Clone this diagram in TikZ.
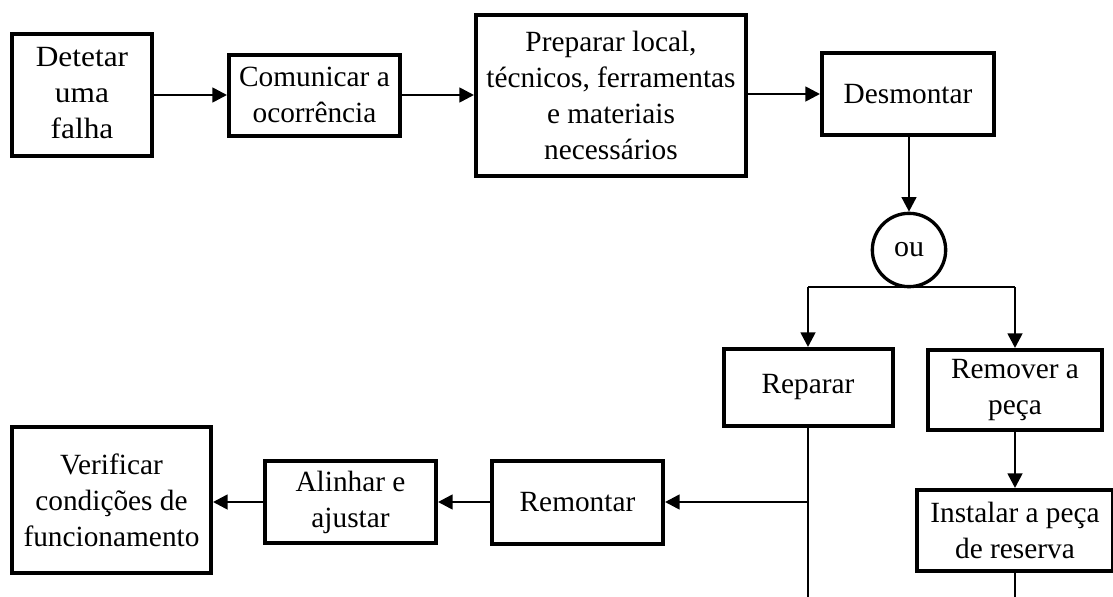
\documentclass[tikz,border=0pt]{standalone}
\usepackage{fontspec}
\usepackage{graphicx}
\setmainfont{Liberation Serif}
\usetikzlibrary{arrows.meta}

% horizontally rescaled multi-line text
\newcommand\reshaped[2]{\scalebox{#1}[1]{\begin{tabular}{@{}c@{}}#2\end{tabular}}}

\tikzset{
  stepbox/.style={draw=black, line width=3pt, rectangle, fill=white,
    align=center, inner sep=2pt, font=\fontsize{22}{27}\selectfont},
  orbox/.style={draw=black, line width=2.5pt, circle, fill=white,
    inner sep=0pt, minimum size=55pt, font=\fontsize{22.5}{27}\selectfont},
  flow/.style={line width=2pt, -{Triangle[length=11pt,width=11pt]}},
  link/.style={line width=2pt}
}

\begin{document}
\begin{tikzpicture}[x=0.75pt, y=-0.75pt]
  \clip (0,0) rectangle (1113,596);
  \fill[white] (0,0) rectangle (1113,596);

  % top row
  \node[stepbox, minimum width=105pt, minimum height=91.5pt] (det) at (82,95)
    {\reshaped{1.07}{Detetar\\uma\\falha}};
  \node[stepbox, minimum width=128.25pt, minimum height=60.75pt] (com) at (314.5,95)
    {Comunicar a\\ocorrência};
  \node[stepbox, minimum width=202.5pt, minimum height=120.75pt] (prep) at (611,95)
    {Preparar local,\\técnicos, ferramentas\\e materiais\\necessários};
  \node[stepbox, minimum width=129pt, minimum height=61.5pt] (desm) at (908,94)
    {Desmontar};

  % decision
  \node[orbox] (ou) at (909,250) {ou};
  \coordinate (split) at (909,287);

  % branches
  \node[stepbox, minimum width=126.75pt, minimum height=57.75pt] (rep) at (808,387.5)
    {Reparar};
  \node[stepbox, minimum width=130.5pt, minimum height=60pt] (rem) at (1015,390)
    {Remover a\\peça};
  \node[stepbox, minimum width=147pt, minimum height=60.75pt] (inst) at (1015,530.5)
    {Instalar a peça\\de reserva};

  % bottom row
  \node[stepbox, minimum width=128.25pt, minimum height=62.25pt] (remo) at (577.5,502)
    {Remontar};
  \node[stepbox, minimum width=128.25pt, minimum height=61.5pt] (alin) at (350.5,502)
    {Alinhar e\\ajustar};
  \node[stepbox, minimum width=149.25pt, minimum height=109.5pt] (verif) at (111.5,500)
    {Verificar\\condições de\\funcionamento};

  \coordinate (repEnd) at (808,600);
  \coordinate (instEnd) at (1015,600);
  \coordinate (merge) at (808,502);

  % connectors
  \draw[flow] (det.east) -- (det.east -| com.west);
  \draw[flow] (com.east) -- (com.east -| prep.west);
  \draw[flow] (prep.east |- desm) -- (desm.west);
  \draw[flow] (desm.south -| ou) -- (ou.north);
  \draw[link] (ou.south) -- (split);
  \draw[link] (split -| rep) -- (split -| rem);
  \draw[flow] (split -| rep) -- (rep.north);
  \draw[flow] (split -| rem) -- (rem.north);
  \draw[flow] (rem.south -| inst) -- (inst.north);
  \draw[link] (rep.south) -- (repEnd);
  \draw[link] (inst.south) -- (instEnd);
  \draw[flow] (merge) -- (merge -| remo.east);
  \draw[flow] (remo.west) -- (alin.east);
  \draw[flow] (alin.west) -- (alin.west -| verif.east);
\end{tikzpicture}
\end{document}
